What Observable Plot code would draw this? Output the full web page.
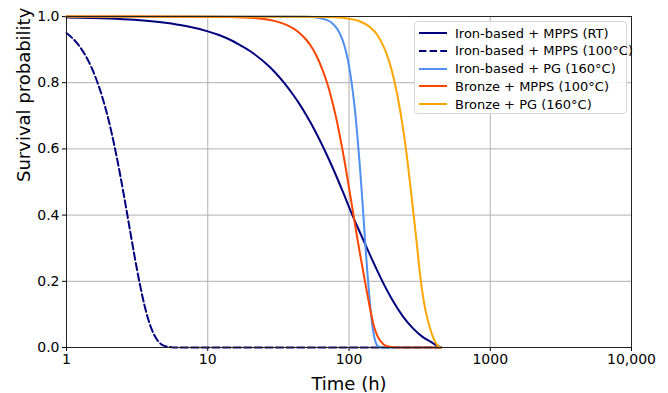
<!DOCTYPE html>
<html><head><meta charset="utf-8">
<script src="https://cdn.jsdelivr.net/npm/d3@7"></script>
<script src="https://cdn.jsdelivr.net/npm/@observablehq/plot@0.6"></script>
<style>
body{margin:0;background:#fff;font-family:"DejaVu Sans",sans-serif;}
#wrap{position:relative;width:668px;height:393px;}
#legend{position:absolute;left:414px;top:21px;width:213px;height:93px;box-sizing:border-box;border:1px solid #d6d6d6;border-radius:4px;background:rgba(255,255,255,0.85);font-family:"DejaVu Sans",sans-serif;font-size:13px;color:#000;}
.row{position:absolute;left:0;height:18px;display:flex;align-items:center;white-space:nowrap;}
.row svg{margin-left:4px;margin-right:8px;}
</style></head><body><div id="wrap"></div>
<script>
// ---- tick labels ----
const xTickValues = [1, 10, 100, 1000, 10000];
const xTickLabels = ["1", "10", "100", "1000", "10,000"];
const yTickValues = [0, 0.2, 0.4, 0.6, 0.8, 1.0];

// ---- series ----
const seriesNames = ["Iron-based + MPPS (RT)", "Iron-based + MPPS (100°C)", "Iron-based + PG (160°C)", "Bronze + MPPS (100°C)", "Bronze + PG (160°C)"];
const seriesColors = ["#00007f", "#00007f", "#4f8ff0", "#ff4500", "#ffa500"];
const seriesDash = [null, "7.4,3.2", null, null, null];

const ironRT_t = [1, 2, 3, 5, 7, 10, 12, 15, 17, 20, 25, 30, 35, 40, 45, 50, 55, 60, 65, 70, 75, 80, 90, 104, 120, 140, 170, 200, 240, 285, 330, 380, 420, 447];
const ironRT_s = [0.997, 0.994, 0.99, 0.981, 0.971, 0.955, 0.944, 0.926, 0.913, 0.895, 0.863, 0.831, 0.798, 0.765, 0.733, 0.701, 0.67, 0.639, 0.609, 0.58, 0.552, 0.525, 0.473, 0.407, 0.346, 0.282, 0.205, 0.148, 0.095, 0.057, 0.033, 0.017, 0.006, 0.001];

const ironHot_t = [1, 1.2, 1.4, 1.6, 1.8, 2.0, 2.2, 2.4, 2.6, 2.8, 3.0, 3.3, 3.6, 4.0, 4.5, 5.0, 5.5, 6, 447];
const ironHot_s = [0.95, 0.917, 0.873, 0.818, 0.754, 0.682, 0.603, 0.521, 0.439, 0.36, 0.287, 0.193, 0.12, 0.056, 0.017, 0.004, 0.001, 0, 0];

const ironPG_t = [1, 30, 50, 60, 70, 75, 80, 85, 90, 95, 100, 105, 110, 115, 120, 125, 130, 135, 140, 145, 150, 155, 160, 170, 447];
const ironPG_s = [1, 1, 0.999, 0.996, 0.989, 0.982, 0.97, 0.953, 0.929, 0.896, 0.851, 0.792, 0.72, 0.633, 0.535, 0.43, 0.322, 0.225, 0.145, 0.08, 0.037, 0.014, 0.004, 0, 0];

const bronzeMPPS_t = [1, 10, 20, 25, 30, 35, 40, 45, 50, 55, 60, 65, 70, 75, 80, 85, 90, 95, 100, 105, 110, 115, 120, 125, 130, 135, 140, 145, 150, 160, 175, 190, 210, 240, 447];
const bronzeMPPS_s = [1, 0.9996, 0.9964, 0.9925, 0.986, 0.977, 0.965, 0.949, 0.929, 0.904, 0.874, 0.838, 0.799, 0.754, 0.705, 0.652, 0.597, 0.54, 0.482, 0.428, 0.375, 0.325, 0.28, 0.238, 0.198, 0.16, 0.124, 0.092, 0.065, 0.032, 0.01, 0.003, 0.0005, 0, 0];

const bronzePG_t = [1, 50, 80, 100, 120, 140, 160, 180, 200, 220, 240, 260, 280, 300, 320, 340, 360, 380, 400, 420, 440, 447];
const bronzePG_s = [1, 0.9995, 0.9977, 0.9935, 0.985, 0.969, 0.942, 0.899, 0.84, 0.762, 0.668, 0.56, 0.44, 0.325, 0.213, 0.135, 0.085, 0.05, 0.024, 0.008, 0.001, 0];

const seriesT = [ironRT_t, ironHot_t, ironPG_t, bronzeMPPS_t, bronzePG_t];
const seriesS = [ironRT_s, ironHot_s, ironPG_s, bronzeMPPS_s, bronzePG_s];

const tables = seriesT.map((ts, i) => ts.map((t, j) => ({t, s: seriesS[i][j], name: seriesNames[i]})));

const lineMarks = tables.map((tab, i) => Plot.line(tab, {
  x: "t", y: "s", stroke: seriesColors[i], strokeWidth: 2,
  strokeDasharray: seriesDash[i] || undefined, curve: "monotone-x"
}));

const chart = Plot.plot({
  width: 668, height: 393,
  marginLeft: 66, marginRight: 37, marginTop: 16, marginBottom: 46,
  style: {fontFamily: "DejaVu Sans, sans-serif", fontSize: "14px", color: "#000", background: "#fff"},
  x: {type: "log", domain: [1, 10000]},
  y: {domain: [0, 1]},
  marks: [
    Plot.gridX(xTickValues, {stroke: "#b0b0b0", strokeOpacity: 1, strokeWidth: 1}),
    Plot.gridY(yTickValues, {stroke: "#b0b0b0", strokeOpacity: 1, strokeWidth: 1}),
    Plot.axisX({ticks: xTickValues, tickFormat: d => xTickLabels[xTickValues.indexOf(d)], tickSize: 4, tickPadding: 3, fontSize: 14, label: null}),
    Plot.axisY({ticks: yTickValues, tickFormat: d3.format(".1f"), tickSize: 4, tickPadding: 3, fontSize: 14, label: null}),
    ...lineMarks,
    Plot.frame({stroke: "#222", strokeWidth: 1}),
    Plot.text(["Time (h)"], {frameAnchor: "bottom", dy: 42, lineAnchor: "bottom", fontSize: 18}),
    Plot.text(["Survival probability"], {frameAnchor: "left", dx: -42, rotate: -90, fontSize: 18})
  ]
});

const wrap = document.getElementById("wrap");
wrap.appendChild(chart);

const legend = document.createElement("div");
legend.id = "legend";
seriesNames.forEach((name, i) => {
  const row = document.createElement("div");
  row.className = "row";
  row.style.top = (2 + i * 17.8) + "px";
  const dash = seriesDash[i] ? ` stroke-dasharray="${seriesDash[i]}"` : "";
  row.innerHTML = `<svg width="28" height="4"><line x1="0" y1="2" x2="28" y2="2" stroke="${seriesColors[i]}" stroke-width="2"${dash}/></svg>`;
  const span = document.createElement("span");
  span.textContent = name;
  row.appendChild(span);
  legend.appendChild(row);
});
wrap.appendChild(legend);
</script>
</body></html>
